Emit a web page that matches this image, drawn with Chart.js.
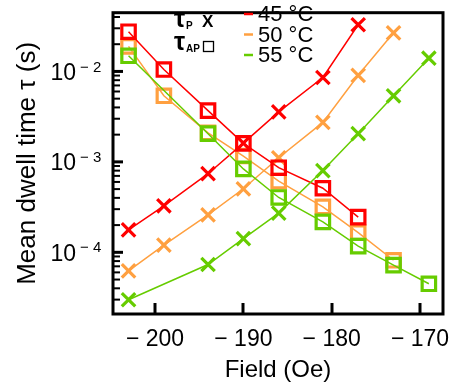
<!DOCTYPE html>
<html>
<head>
<meta charset="utf-8">
<script src="https://cdn.jsdelivr.net/npm/chart.js@4.4.1/dist/chart.umd.min.js"></script>
<style>
html,body{margin:0;padding:0;background:#fff}
#wrap{width:462px;height:389px}
</style>
</head>
<body>
<div id="wrap"><canvas id="myChart"></canvas></div>
<script>
// data (field in Oe, dwell time in s)
const field45 = [-203, -199, -194, -190, -186, -181, -177]
const tauP45 = [1.77e-4, 3.27e-4, 7.4e-4, 1.61e-3, 3.57e-3, 8.57e-3, 3.28e-2]
const tauAP45 = [2.75e-2, 1.05e-2, 3.69e-3, 1.6e-3, 8.62e-4, 5.11e-4, 2.45e-4]

const field50 = [-203, -199, -194, -190, -186, -181, -177, -173]
const tauP50 = [6.24e-5, 1.2e-4, 2.6e-4, 5.04e-4, 1.11e-3, 2.73e-3, 9.06e-3, 2.67e-2]
const tauAP50 = [1.89e-2, 5.38e-3, 2.09e-3, 1.16e-3, 6.12e-4, 3.18e-4, 1.65e-4, 8.17e-5]

const field55 = [-203, -194, -190, -186, -181, -177, -173, -169]
const tauP55 = [2.99e-5, 7.33e-5, 1.42e-4, 2.71e-4, 8.02e-4, 2.05e-3, 5.38e-3, 1.4e-2]
const tauAP55 = [1.49e-2, 2.05e-3, 8.36e-4, 4.04e-4, 2.17e-4, 1.17e-4, 7.22e-5, 4.49e-5]

const tempLabels = ['45 °C', '50 °C', '55 °C']
const xTicks = [-200, -190, -180, -170]
const yMajor = [1e-4, 1e-3, 1e-2]

const RED = '#ff0000'
const ORANGE = '#ffa040'
const GREEN = '#66cc00'
const FONT = "'Liberation Sans', Arial, sans-serif"

const pts = (xs, ys) => xs.map((x, i) => ({x: x, y: ys[i]}))

const mkSet = (label, xs, ys, color, style) => ({
    label: label,
    data: pts(xs, ys),
    showLine: true,
    borderColor: color,
    borderWidth: 1.5,
    pointStyle: style,
    pointRadius: 9.5,
    pointBorderWidth: 3.2,
    pointBorderColor: color,
    pointBackgroundColor: 'rgba(0,0,0,0)',
    backgroundColor: color,
})

// first dataset ends up on top
const datasets = [
    mkSet('55 AP', field55, tauAP55, GREEN, 'rect'),
    mkSet('55 P', field55, tauP55, GREEN, 'crossRot'),
    mkSet('45 AP', field45, tauAP45, RED, 'rect'),
    mkSet('45 P', field45, tauP45, RED, 'crossRot'),
    mkSet('50 AP', field50, tauAP50, ORANGE, 'rect'),
    mkSet('50 P', field50, tauP50, ORANGE, 'crossRot'),
]

// minor ticks of the log axis
const yTickVals = []
for (let e = -5; e <= -2; e++) {
    for (let m = 1; m <= 9; m++) yTickVals.push(m * Math.pow(10, e))
}

const framePlugin = {
    id: 'frame',
    afterDraw(chart) {
        const c = chart.ctx
        const a = chart.chartArea
        const xs = chart.scales.x
        const ys = chart.scales.y
        c.save()
        c.strokeStyle = '#000'
        c.lineCap = 'butt'
        // x ticks, pointing inward
        c.lineWidth = 3
        xTicks.forEach(v => {
            const px = Math.round(xs.getPixelForValue(v))
            c.beginPath()
            c.moveTo(px, a.bottom)
            c.lineTo(px, a.bottom - 11)
            c.stroke()
        })
        // y ticks
        yTickVals.forEach(v => {
            const py = ys.getPixelForValue(v)
            if (py < a.top + 2 || py > a.bottom - 2) return
            const major = yMajor.some(m => Math.abs(m - v) / m < 1e-6)
            c.lineWidth = major ? 3 : 2
            c.beginPath()
            c.moveTo(a.left, py)
            c.lineTo(a.left + (major ? 10 : 7), py)
            c.stroke()
        })
        c.lineWidth = 3
        c.strokeRect(a.left, a.top, a.right - a.left, a.bottom - a.top)

        // y tick labels 10^n
        c.fillStyle = '#000'
        yMajor.forEach(v => {
            const py = ys.getPixelForValue(v)
            const e = Math.round(Math.log10(v))
            c.font = '23px ' + FONT
            c.textAlign = 'right'
            c.textBaseline = 'middle'
            c.fillText('10', 76, py + 2)
            c.font = '15px ' + FONT
            c.textAlign = 'left'
            c.fillText('\u2212 ' + Math.abs(e), 80, py - 4)
        })

        // key
        c.textBaseline = 'middle'
        c.textAlign = 'left'
        c.font = 'bold 25px ' + FONT
        c.fillText('τ', 174, 20)
        c.fillText('τ', 174, 43)
        c.font = 'bold 10px ' + FONT
        c.fillText('P', 186, 26)
        c.fillText('AP', 186, 49)
        c.font = 'bold 17px ' + FONT
        c.fillText('X', 202, 22)
        c.lineWidth = 1.3
        c.strokeRect(203.5, 41.5, 10, 10)

        const cols = [RED, ORANGE, GREEN]
        tempLabels.forEach((t, i) => {
            const y = 14 + i * 20.5
            c.strokeStyle = cols[i]
            c.lineWidth = 2.5
            c.beginPath()
            c.moveTo(244, y)
            c.lineTo(253, y)
            c.stroke()
            c.font = '22px ' + FONT
            c.fillStyle = '#000'
            c.fillText(t, 258, y + 1)
        })
        c.restore()
    }
}

const ctx = document.getElementById('myChart').getContext('2d')
const chart = new Chart(ctx, {
    type: 'scatter',
    data: {datasets: datasets},
    plugins: [framePlugin],
    options: {
        responsive: true,
        maintainAspectRatio: false,
        animation: false,
        layout: {padding: {top: 1, right: 19, left: 0, bottom: 0}},
        plugins: {
            legend: {display: false},
            tooltip: {enabled: false},
        },
        scales: {
            x: {
                type: 'linear',
                position: 'bottom',
                min: -204.76,
                max: -167.4,
                grid: {display: false},
                border: {display: false},
                afterBuildTicks: s => { s.ticks = xTicks.map(v => ({value: v})) },
                afterFit: s => { s.height = 75 },
                ticks: {
                    color: '#000',
                    font: {size: 23, family: FONT},
                    padding: 4,
                    maxRotation: 0,
                    autoSkip: false,
                    callback: v => '\u2212 ' + Math.abs(v),
                },
                title: {
                    display: true,
                    text: 'Field (Oe)',
                    color: '#000',
                    font: {size: 24, family: FONT, lineHeight: 1.2},
                    padding: {top: 0, bottom: 4},
                },
            },
            y: {
                type: 'logarithmic',
                min: 2.08e-5,
                max: 0.0446,
                grid: {display: false},
                border: {display: false},
                afterBuildTicks: s => { s.ticks = yTickVals.map(v => ({value: v})) },
                afterFit: s => { s.width = 113 },
                ticks: {display: false},
                title: {
                    display: true,
                    text: 'Mean dwell time τ (s)',
                    color: '#000',
                    font: {size: 26, family: FONT, lineHeight: 1.2},
                    padding: {top: 12, bottom: 0},
                },
            },
        },
    },
})
</script>
</body>
</html>
